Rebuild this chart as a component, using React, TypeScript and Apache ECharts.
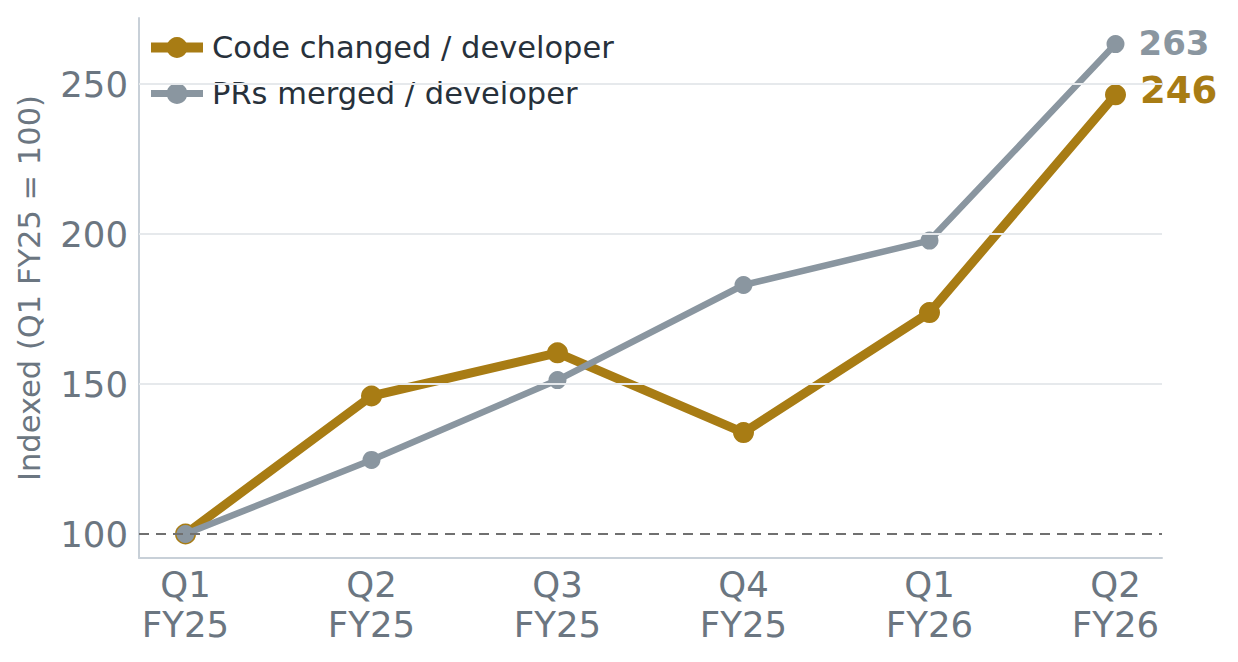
import { useEffect, useRef } from 'react';
import * as echarts from 'echarts';

/* ───── Data ───── */
const quarters = ['Q1\nFY25', 'Q2\nFY25', 'Q3\nFY25', 'Q4\nFY25', 'Q1\nFY26', 'Q2\nFY26'];
const codeChanged = [100, 146, 160.4, 133.8, 173.8, 246.4];
const prsMerged = [100, 124.7, 151.3, 183, 197.8, 263.3];
const gridValues = [150, 200, 250];
const baseline = 100;

const GOLD = '#A87C14';
const GRAY = '#8A96A0';
const TICK = '#6B7681';
const FONT = '"DejaVu Sans", sans-serif';

function toPoints(vals: number[], labelSize: number, color: string, dy: number) {
  return vals.map((v, i) => {
    if (i < vals.length - 1) return [i, v];
    return {
      value: [i, v],
      label: {
        show: true, position: 'right', distance: 14, offset: [0, dy],
        formatter: () => String(Math.round(v)),
        fontSize: labelSize, fontWeight: 'bold', color, fontFamily: FONT,
      },
    };
  });
}

export default function App() {
  const ref = useRef<HTMLDivElement>(null);

  useEffect(() => {
    if (!ref.current) return;
    const chart = echarts.init(ref.current, undefined, { renderer: 'svg' });
    chart.setOption({
      animation: false,
      backgroundColor: '#ffffff',
      textStyle: { fontFamily: FONT },
      grid: { left: 139, right: 76, top: 18, bottom: 104 },
      legend: {
        orient: 'vertical', left: 146, top: 32, padding: 0,
        itemWidth: 52, itemHeight: 26, itemGap: 15,
        data: [
          { name: 'Code changed / developer', lineStyle: { width: 10 } },
          { name: 'PRs merged / developer', lineStyle: { width: 7 } },
        ],
        textStyle: { fontSize: 30.5, color: '#27313B', lineHeight: 30, padding: [0, 0, 0, 4], fontFamily: FONT },
      },
      xAxis: {
        type: 'value', min: -0.25, max: 5.25, interval: 0.25,
        axisLine: { show: true, onZero: false, lineStyle: { color: '#C8D0D8', width: 2 } },
        axisTick: { show: false }, splitLine: { show: false },
        axisLabel: {
          fontSize: 35.5, color: TICK, lineHeight: 40, margin: 6, fontFamily: FONT,
          showMinLabel: true, showMaxLabel: true,
          formatter: (v: number) => (Number.isInteger(v) && v >= 0 && v < quarters.length ? quarters[v] : ''),
        },
      },
      yAxis: {
        type: 'value', min: 92, max: 272, interval: 2,
        name: 'Indexed (Q1 FY25 = 100)', nameLocation: 'middle', nameGap: 94,
        nameTextStyle: { fontSize: 30.5, color: TICK, fontFamily: FONT },
        axisLine: { show: true, onZero: false, lineStyle: { color: '#C8D0D8', width: 2 } },
        axisTick: { show: false }, splitLine: { show: false },
        axisLabel: {
          fontSize: 35.5, color: TICK, margin: 11, fontFamily: FONT,
          formatter: (v: number) => (v % 50 === 0 ? String(v) : ''),
        },
      },
      series: [
        {
          name: 'refs', type: 'line', data: [], z: 1, silent: true,
          markLine: {
            silent: true, symbol: 'none', label: { show: false },
            data: [
              ...gridValues.map(y => ({ yAxis: y, lineStyle: { color: '#E6E9EC', width: 2, type: 'solid' } })),
              { yAxis: baseline, lineStyle: { color: '#707070', width: 2, type: [10, 7] } },
            ],
          },
        },
        {
          name: 'Code changed / developer', type: 'line', z: 2,
          data: toPoints(codeChanged, 37, GOLD, -4),
          symbol: 'circle', symbolSize: 21,
          lineStyle: { color: GOLD, width: 9 }, itemStyle: { color: GOLD },
        },
        {
          name: 'PRs merged / developer', type: 'line', z: 3,
          data: toPoints(prsMerged, 34, GRAY, -1),
          symbol: 'circle', symbolSize: 18,
          lineStyle: { color: GRAY, width: 6.5 }, itemStyle: { color: GRAY },
        },
      ],
    });
    return () => { chart.dispose(); };
  }, []);

  return <div ref={ref} style={{ position: 'fixed', left: 0, top: 0, width: 1238, height: 662 }} />;
}
